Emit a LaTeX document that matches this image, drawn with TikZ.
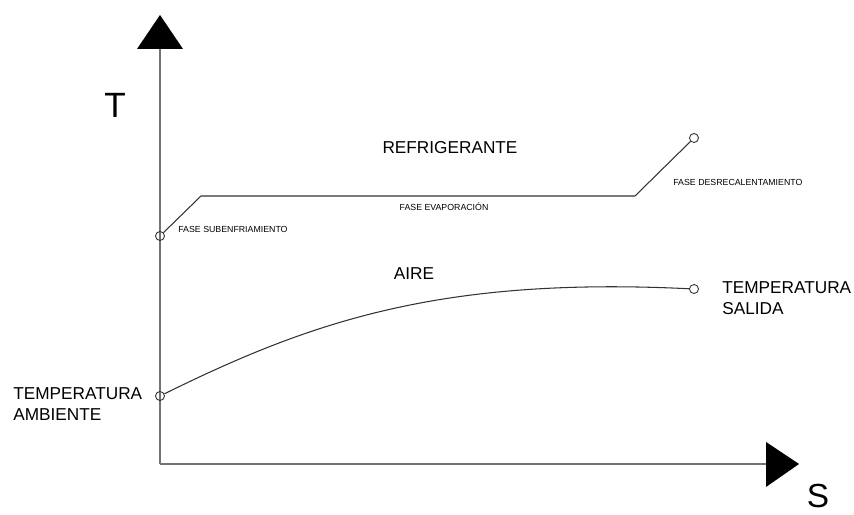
\documentclass[tikz,border=0pt]{standalone}
\usepackage{fontspec}
\setmainfont{Liberation Sans}

\begin{document}
\begin{tikzpicture}[
    eje/.style={draw=black!55, line width=0.6pt},
    curva/.style={draw=black!80, line width=0.6pt},
    punto/.style={circle, draw=black!80, line width=0.5pt, minimum size=0.18cm, inner sep=0pt},
    etiqueta/.style={inner sep=0pt, font=\fontsize{9.8}{12}\selectfont, align=left},
    fase/.style={inner sep=0pt, font=\fontsize{5}{6}\selectfont}
]
    \useasboundingbox (-3.2,-1.02) rectangle (13.88,9.28); % Margins of the reference

    % Axes
    \coordinate (origen) at (0,0);
    \coordinate (ytop) at (0,8.30);
    \coordinate (xend) at (12.12,0);
    \draw[eje] (origen) -- (ytop); % T axis
    \draw[eje] (origen) -- (xend); % S axis
    \fill (0,8.98) -- (-0.46,8.30) -- (0.46,8.30) -- cycle; % Arrow head T
    \fill (12.78,0) -- (12.12,0.44) -- (12.12,-0.46) -- cycle; % Arrow head S
    \node[inner sep=0pt, font=\fontsize{20}{24}\selectfont] (ejeT) at (-0.9,7.18) {T};
    \node[inner sep=0pt, font=\fontsize{19}{23}\selectfont] (ejeS) at (13.16,-0.64) {S};

    % Refrigerant
    \node[punto] (sub) at (0,4.56) {};
    \node[punto] (desre) at (10.68,6.52) {};
    \coordinate (codo1) at (0.82,5.36);
    \coordinate (codo2) at (9.50,5.36);
    \draw[curva] (sub) -- (codo1) -- (codo2) -- (desre);

    % Air
    \node[punto] (ambiente) at (0,1.36) {};
    \node[punto] (salida) at (10.68,3.50) {};
    \draw[curva] (ambiente) .. controls (3.0,2.84) and (5.6,3.75) .. (salida);

    % Labels
    \node[etiqueta] (refri) at (5.8,6.32) {REFRIGERANTE};
    \node[etiqueta] (aire) at (5.08,3.80) {AIRE};
    \node[fase, anchor=west] (fsub) at (0.36,4.70) {FASE SUBENFRIAMIENTO};
    \node[fase] (fevap) at (5.68,5.14) {FASE EVAPORACIÓN};
    \node[fase, anchor=west] (fdesre) at (10.26,5.64) {FASE DESRECALENTAMIENTO};
    \node[etiqueta, anchor=west] (tsal) at (11.24,3.32) {TEMPERATURA\\SALIDA};
    \node[etiqueta, anchor=west] (tamb) at (-2.94,1.19) {TEMPERATURA\\AMBIENTE};
\end{tikzpicture}
\end{document}
